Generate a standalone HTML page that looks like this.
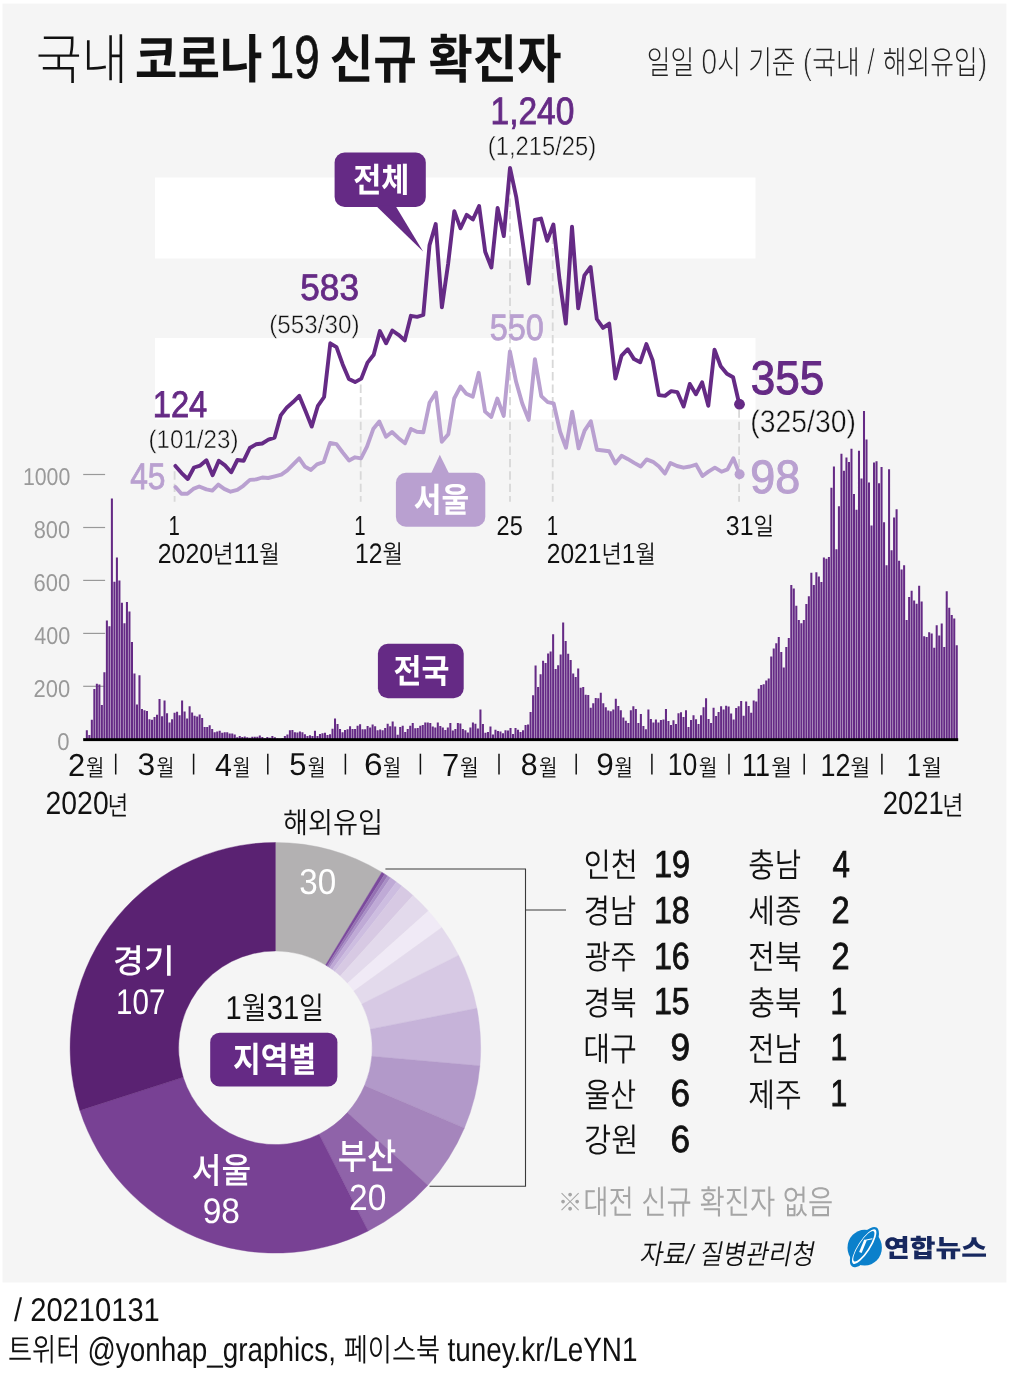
<!DOCTYPE html>
<html><head><meta charset="utf-8"><title>국내 코로나19 신규 확진자</title>
<style>
html,body{margin:0;padding:0;background:#fff}
svg{display:block}
svg text{font-family:"Liberation Sans","Noto Sans CJK KR",sans-serif;white-space:pre;text-rendering:geometricPrecision}
</style></head><body>
<svg width="1009" height="1384" viewBox="0 0 1009 1384">
<rect x="2.5" y="3.6" width="1003.9" height="1278.9" fill="#f5f5f5"/>
<rect x="155" y="177.5" width="600.5" height="81" fill="#fff"/>
<rect x="155" y="338" width="600.5" height="81.5" fill="#fff"/>
<line x1="83.2" x2="105.1" y1="474.5" y2="474.5" stroke="#999" stroke-width="1.2"/>
<line x1="83.2" x2="105.1" y1="527.5" y2="527.5" stroke="#999" stroke-width="1.2"/>
<line x1="83.2" x2="105.1" y1="580.4" y2="580.4" stroke="#999" stroke-width="1.2"/>
<line x1="83.2" x2="105.1" y1="633.4" y2="633.4" stroke="#999" stroke-width="1.2"/>
<line x1="83.2" x2="105.1" y1="686.3" y2="686.3" stroke="#999" stroke-width="1.2"/>
<path d="M83.30 739.3v-0.5h2.04v0.5zM85.81 739.3v-9.0h2.04v9.0zM88.32 739.3v-4.2h2.04v4.2zM90.82 739.3v-19.6h2.04v19.6zM93.33 739.3v-50.3h2.04v50.3zM95.84 739.3v-55.6h2.04v55.6zM98.35 739.3v-54.8h2.04v54.8zM100.85 739.3v-34.4h2.04v34.4zM103.36 739.3v-67.0h2.04v67.0zM105.87 739.3v-118.9h2.04v118.9zM108.37 739.3v-113.1h2.04v113.1zM110.88 739.3v-240.7h2.04v240.7zM113.39 739.3v-157.6h2.04v157.6zM115.89 739.3v-181.7h2.04v181.7zM118.40 739.3v-158.9h2.04v158.9zM120.91 739.3v-136.6h2.04v136.6zM123.42 739.3v-116.0h2.04v116.0zM125.92 739.3v-137.2h2.04v137.2zM128.43 739.3v-127.9h2.04v127.9zM130.94 739.3v-97.2h2.04v97.2zM133.44 739.3v-65.7h2.04v65.7zM135.95 739.3v-34.7h2.04v34.7zM138.46 739.3v-64.1h2.04v64.1zM140.96 739.3v-30.2h2.04v30.2zM143.47 739.3v-29.1h2.04v29.1zM145.98 739.3v-28.3h2.04v28.3zM148.48 739.3v-20.1h2.04v20.1zM150.99 739.3v-19.6h2.04v19.6zM153.50 739.3v-22.2h2.04v22.2zM156.01 739.3v-24.6h2.04v24.6zM158.51 739.3v-40.2h2.04v40.2zM161.02 739.3v-23.0h2.04v23.0zM163.53 739.3v-38.9h2.04v38.9zM166.03 739.3v-26.0h2.04v26.0zM168.54 739.3v-16.9h2.04v16.9zM171.05 739.3v-20.1h2.04v20.1zM173.56 739.3v-26.5h2.04v26.5zM176.06 739.3v-27.5h2.04v27.5zM178.57 739.3v-24.1h2.04v24.1zM181.08 739.3v-38.7h2.04v38.7zM183.58 739.3v-27.8h2.04v27.8zM186.09 739.3v-20.7h2.04v20.7zM188.60 739.3v-33.1h2.04v33.1zM191.10 739.3v-26.7h2.04v26.7zM193.61 739.3v-23.6h2.04v23.6zM196.12 739.3v-22.8h2.04v22.8zM198.62 739.3v-24.9h2.04v24.9zM201.13 739.3v-21.4h2.04v21.4zM203.64 739.3v-12.4h2.04v12.4zM206.15 739.3v-12.4h2.04v12.4zM208.65 739.3v-14.0h2.04v14.0zM211.16 739.3v-10.3h2.04v10.3zM213.67 739.3v-7.1h2.04v7.1zM216.17 739.3v-7.9h2.04v7.9zM218.68 739.3v-8.5h2.04v8.5zM221.19 739.3v-6.6h2.04v6.6zM223.70 739.3v-7.1h2.04v7.1zM226.20 739.3v-7.1h2.04v7.1zM228.71 739.3v-5.8h2.04v5.8zM231.22 739.3v-5.8h2.04v5.8zM233.72 739.3v-4.8h2.04v4.8zM236.23 739.3v-2.1h2.04v2.1zM238.74 739.3v-3.4h2.04v3.4zM241.24 739.3v-2.4h2.04v2.4zM243.75 739.3v-2.9h2.04v2.9zM246.26 739.3v-2.1h2.04v2.1zM248.77 739.3v-1.6h2.04v1.6zM251.27 739.3v-2.6h2.04v2.6zM253.78 739.3v-2.6h2.04v2.6zM256.29 739.3v-2.6h2.04v2.6zM258.79 739.3v-3.7h2.04v3.7zM261.30 739.3v-2.4h2.04v2.4zM263.81 739.3v-1.1h2.04v1.1zM266.31 739.3v-2.4h2.04v2.4zM268.82 739.3v-1.6h2.04v1.6zM271.33 739.3v-3.4h2.04v3.4zM273.84 739.3v-2.1h2.04v2.1zM276.34 739.3v-0.8h2.04v0.8zM278.85 739.3v-0.5h2.04v0.5zM281.36 739.3v-1.1h2.04v1.1zM283.86 739.3v-3.2h2.04v3.2zM286.37 739.3v-4.8h2.04v4.8zM288.88 739.3v-9.0h2.04v9.0zM291.38 739.3v-9.3h2.04v9.3zM293.89 739.3v-7.1h2.04v7.1zM296.40 739.3v-6.9h2.04v6.9zM298.91 739.3v-7.7h2.04v7.7zM301.41 739.3v-7.1h2.04v7.1zM303.92 739.3v-5.0h2.04v5.0zM306.43 739.3v-3.4h2.04v3.4zM308.93 739.3v-4.0h2.04v4.0zM311.44 739.3v-3.4h2.04v3.4zM313.95 739.3v-8.5h2.04v8.5zM316.45 739.3v-3.2h2.04v3.2zM318.96 739.3v-5.3h2.04v5.3zM321.47 739.3v-6.1h2.04v6.1zM323.98 739.3v-6.6h2.04v6.6zM326.48 739.3v-4.2h2.04v4.2zM328.99 739.3v-5.0h2.04v5.0zM331.50 739.3v-10.6h2.04v10.6zM334.00 739.3v-20.9h2.04v20.9zM336.51 739.3v-15.4h2.04v15.4zM339.02 739.3v-10.3h2.04v10.3zM341.52 739.3v-7.1h2.04v7.1zM344.03 739.3v-9.3h2.04v9.3zM346.54 739.3v-10.1h2.04v10.1zM349.05 739.3v-13.0h2.04v13.0zM351.55 739.3v-10.3h2.04v10.3zM354.06 739.3v-10.3h2.04v10.3zM356.57 739.3v-13.5h2.04v13.5zM359.07 739.3v-15.1h2.04v15.1zM361.58 739.3v-10.1h2.04v10.1zM364.09 739.3v-10.1h2.04v10.1zM366.59 739.3v-13.2h2.04v13.2zM369.10 739.3v-11.9h2.04v11.9zM371.61 739.3v-14.8h2.04v14.8zM374.12 739.3v-13.0h2.04v13.0zM376.62 739.3v-9.0h2.04v9.0zM379.13 739.3v-9.8h2.04v9.8zM381.64 739.3v-9.0h2.04v9.0zM384.14 739.3v-11.4h2.04v11.4zM386.65 739.3v-15.6h2.04v15.6zM389.16 739.3v-13.0h2.04v13.0zM391.66 739.3v-17.7h2.04v17.7zM394.17 739.3v-12.7h2.04v12.7zM396.68 739.3v-4.5h2.04v4.5zM399.19 739.3v-12.2h2.04v12.2zM401.69 739.3v-13.5h2.04v13.5zM404.20 739.3v-7.4h2.04v7.4zM406.71 739.3v-10.3h2.04v10.3zM409.21 739.3v-13.5h2.04v13.5zM411.72 739.3v-16.4h2.04v16.4zM414.23 739.3v-11.1h2.04v11.1zM416.73 739.3v-11.4h2.04v11.4zM419.24 739.3v-13.5h2.04v13.5zM421.75 739.3v-14.3h2.04v14.3zM424.25 739.3v-16.7h2.04v16.7zM426.76 739.3v-16.7h2.04v16.7zM429.27 739.3v-16.2h2.04v16.2zM431.78 739.3v-12.7h2.04v12.7zM434.28 739.3v-11.7h2.04v11.7zM436.79 739.3v-16.7h2.04v16.7zM439.30 739.3v-13.2h2.04v13.2zM441.80 739.3v-11.9h2.04v11.9zM444.31 739.3v-9.3h2.04v9.3zM446.82 739.3v-11.7h2.04v11.7zM449.33 739.3v-16.4h2.04v16.4zM451.83 739.3v-8.7h2.04v8.7zM454.34 739.3v-10.3h2.04v10.3zM456.85 739.3v-16.2h2.04v16.2zM459.35 739.3v-15.9h2.04v15.9zM461.86 739.3v-10.3h2.04v10.3zM464.37 739.3v-9.0h2.04v9.0zM466.87 739.3v-6.9h2.04v6.9zM469.38 739.3v-11.9h2.04v11.9zM471.89 739.3v-16.7h2.04v16.7zM474.40 739.3v-15.6h2.04v15.6zM476.90 739.3v-10.9h2.04v10.9zM479.41 739.3v-29.9h2.04v29.9zM481.92 739.3v-15.4h2.04v15.4zM484.42 739.3v-6.6h2.04v6.6zM486.93 739.3v-7.4h2.04v7.4zM489.44 739.3v-12.7h2.04v12.7zM491.94 739.3v-4.8h2.04v4.8zM494.45 739.3v-9.5h2.04v9.5zM496.96 739.3v-8.2h2.04v8.2zM499.47 739.3v-7.9h2.04v7.9zM501.97 739.3v-6.1h2.04v6.1zM504.48 739.3v-9.0h2.04v9.0zM506.99 739.3v-8.7h2.04v8.7zM509.49 739.3v-11.4h2.04v11.4zM512.00 739.3v-5.3h2.04v5.3zM514.51 739.3v-11.4h2.04v11.4zM517.01 739.3v-9.5h2.04v9.5zM519.52 739.3v-7.4h2.04v7.4zM522.03 739.3v-9.0h2.04v9.0zM524.54 739.3v-14.3h2.04v14.3zM527.04 739.3v-14.8h2.04v14.8zM529.55 739.3v-27.3h2.04v27.3zM532.06 739.3v-44.0h2.04v44.0zM534.56 739.3v-73.9h2.04v73.9zM537.07 739.3v-52.2h2.04v52.2zM539.58 739.3v-65.1h2.04v65.1zM542.08 739.3v-78.6h2.04v78.6zM544.59 739.3v-76.3h2.04v76.3zM547.10 739.3v-85.8h2.04v85.8zM549.61 739.3v-87.9h2.04v87.9zM552.11 739.3v-105.1h2.04v105.1zM554.62 739.3v-70.4h2.04v70.4zM557.13 739.3v-74.1h2.04v74.1zM559.63 739.3v-84.7h2.04v84.7zM562.14 739.3v-116.8h2.04v116.8zM564.65 739.3v-98.2h2.04v98.2zM567.15 739.3v-85.5h2.04v85.5zM569.66 739.3v-79.2h2.04v79.2zM572.17 739.3v-65.7h2.04v65.7zM574.68 739.3v-62.2h2.04v62.2zM577.18 739.3v-70.7h2.04v70.7zM579.69 739.3v-51.6h2.04v51.6zM582.20 739.3v-52.4h2.04v52.4zM584.70 739.3v-44.5h2.04v44.5zM587.21 739.3v-44.2h2.04v44.2zM589.72 739.3v-31.5h2.04v31.5zM592.22 739.3v-36.0h2.04v36.0zM594.73 739.3v-41.3h2.04v41.3zM597.24 739.3v-41.0h2.04v41.0zM599.75 739.3v-46.6h2.04v46.6zM602.25 739.3v-36.0h2.04v36.0zM604.76 739.3v-32.0h2.04v32.0zM607.27 739.3v-28.9h2.04v28.9zM609.77 739.3v-28.1h2.04v28.1zM612.28 739.3v-29.9h2.04v29.9zM614.79 739.3v-40.5h2.04v40.5zM617.29 739.3v-33.4h2.04v33.4zM619.80 739.3v-29.1h2.04v29.1zM622.31 739.3v-21.7h2.04v21.7zM624.82 739.3v-18.5h2.04v18.5zM627.32 739.3v-16.2h2.04v16.2zM629.83 739.3v-29.1h2.04v29.1zM632.34 739.3v-33.1h2.04v33.1zM634.84 739.3v-30.2h2.04v30.2zM637.35 739.3v-16.2h2.04v16.2zM639.86 739.3v-25.2h2.04v25.2zM642.36 739.3v-13.2h2.04v13.2zM644.87 739.3v-10.1h2.04v10.1zM647.38 739.3v-29.9h2.04v29.9zM649.88 739.3v-20.4h2.04v20.4zM652.39 739.3v-16.7h2.04v16.7zM654.90 739.3v-19.9h2.04v19.9zM657.41 739.3v-16.9h2.04v16.9zM659.91 739.3v-19.3h2.04v19.3zM662.42 739.3v-19.9h2.04v19.9zM664.93 739.3v-30.2h2.04v30.2zM667.43 739.3v-18.3h2.04v18.3zM669.94 739.3v-14.3h2.04v14.3zM672.45 739.3v-19.1h2.04v19.1zM674.96 739.3v-15.4h2.04v15.4zM677.46 739.3v-26.0h2.04v26.0zM679.97 739.3v-27.0h2.04v27.0zM682.48 739.3v-22.2h2.04v22.2zM684.98 739.3v-29.1h2.04v29.1zM687.49 739.3v-12.4h2.04v12.4zM690.00 739.3v-19.3h2.04v19.3zM692.50 739.3v-24.1h2.04v24.1zM695.01 739.3v-20.1h2.04v20.1zM697.52 739.3v-15.4h2.04v15.4zM700.02 739.3v-24.1h2.04v24.1zM702.53 739.3v-32.0h2.04v32.0zM705.04 739.3v-41.0h2.04v41.0zM707.55 739.3v-20.4h2.04v20.4zM710.05 739.3v-16.2h2.04v16.2zM712.56 739.3v-31.5h2.04v31.5zM715.07 739.3v-23.3h2.04v23.3zM717.57 739.3v-27.3h2.04v27.3zM720.08 739.3v-33.1h2.04v33.1zM722.59 739.3v-29.9h2.04v29.9zM725.10 739.3v-33.6h2.04v33.6zM727.60 739.3v-32.8h2.04v32.8zM730.11 739.3v-25.7h2.04v25.7zM732.62 739.3v-19.9h2.04v19.9zM735.12 739.3v-31.2h2.04v31.2zM737.63 739.3v-33.1h2.04v33.1zM740.14 739.3v-38.4h2.04v38.4zM742.64 739.3v-23.6h2.04v23.6zM745.15 739.3v-37.9h2.04v37.9zM747.66 739.3v-33.4h2.04v33.4zM750.17 739.3v-26.5h2.04v26.5zM752.67 739.3v-38.7h2.04v38.7zM755.18 739.3v-37.9h2.04v37.9zM757.69 739.3v-50.6h2.04v50.6zM760.19 739.3v-54.3h2.04v54.3zM762.70 739.3v-55.1h2.04v55.1zM765.21 739.3v-58.8h2.04v58.8zM767.71 739.3v-60.9h2.04v60.9zM770.22 739.3v-82.9h2.04v82.9zM772.73 739.3v-90.8h2.04v90.8zM775.24 739.3v-96.1h2.04v96.1zM777.74 739.3v-102.2h2.04v102.2zM780.25 739.3v-87.4h2.04v87.4zM782.76 739.3v-71.8h2.04v71.8zM785.26 739.3v-92.4h2.04v92.4zM787.77 739.3v-101.2h2.04v101.2zM790.28 739.3v-154.4h2.04v154.4zM792.78 739.3v-150.7h2.04v150.7zM795.29 739.3v-133.5h2.04v133.5zM797.80 739.3v-119.2h2.04v119.2zM800.31 739.3v-116.0h2.04v116.0zM802.81 739.3v-119.4h2.04v119.4zM805.32 739.3v-135.3h2.04v135.3zM807.83 739.3v-143.0h2.04v143.0zM810.33 739.3v-166.6h2.04v166.6zM812.84 739.3v-154.4h2.04v154.4zM815.35 739.3v-167.1h2.04v167.1zM817.85 739.3v-162.9h2.04v162.9zM820.36 739.3v-157.3h2.04v157.3zM822.87 739.3v-181.7h2.04v181.7zM825.38 739.3v-180.6h2.04v180.6zM827.88 739.3v-182.4h2.04v182.4zM830.39 739.3v-251.6h2.04v251.6zM832.90 739.3v-272.7h2.04v272.7zM835.40 739.3v-190.1h2.04v190.1zM837.91 739.3v-233.0h2.04v233.0zM840.42 739.3v-285.5h2.04v285.5zM842.92 739.3v-268.5h2.04v268.5zM845.43 739.3v-281.7h2.04v281.7zM847.94 739.3v-277.2h2.04v277.2zM850.45 739.3v-290.5h2.04v290.5zM852.95 739.3v-245.2h2.04v245.2zM855.46 739.3v-229.6h2.04v229.6zM857.97 739.3v-288.6h2.04v288.6zM860.47 739.3v-260.8h2.04v260.8zM862.98 739.3v-328.4h2.04v328.4zM865.49 739.3v-299.8h2.04v299.8zM867.99 739.3v-256.9h2.04v256.9zM870.50 739.3v-213.7h2.04v213.7zM873.01 739.3v-276.7h2.04v276.7zM875.51 739.3v-278.0h2.04v278.0zM878.02 739.3v-256.1h2.04v256.1zM880.53 739.3v-272.2h2.04v272.2zM883.04 739.3v-217.1h2.04v217.1zM885.54 739.3v-174.0h2.04v174.0zM888.05 739.3v-270.1h2.04v270.1zM890.56 739.3v-189.1h2.04v189.1zM893.06 739.3v-221.9h2.04v221.9zM895.57 739.3v-230.1h2.04v230.1zM898.08 739.3v-178.5h2.04v178.5zM900.59 739.3v-169.7h2.04v169.7zM903.09 739.3v-174.0h2.04v174.0zM905.60 739.3v-119.4h2.04v119.4zM908.11 739.3v-142.2h2.04v142.2zM910.61 739.3v-148.6h2.04v148.6zM913.12 739.3v-138.8h2.04v138.8zM915.63 739.3v-135.6h2.04v135.6zM918.13 739.3v-153.6h2.04v153.6zM920.64 739.3v-137.7h2.04v137.7zM923.15 739.3v-103.0h2.04v103.0zM925.66 739.3v-102.2h2.04v102.2zM928.16 739.3v-107.0h2.04v107.0zM930.67 739.3v-105.9h2.04v105.9zM933.18 739.3v-91.6h2.04v91.6zM935.68 739.3v-114.1h2.04v114.1zM938.19 739.3v-103.8h2.04v103.8zM940.70 739.3v-115.7h2.04v115.7zM943.20 739.3v-92.4h2.04v92.4zM945.71 739.3v-148.0h2.04v148.0zM948.22 739.3v-131.6h2.04v131.6zM950.73 739.3v-124.2h2.04v124.2zM953.23 739.3v-120.7h2.04v120.7zM955.74 739.3v-94.0h2.04v94.0z" fill="#652a85"/>
<rect x="83.2" y="738.2" width="875" height="2.9" fill="#000"/>
<line x1="174.6" x2="174.6" y1="501.7" y2="468" stroke="#d8d8d8" stroke-width="1.8" stroke-dasharray="8.4 4" stroke-dashoffset="2.8"/>
<line x1="360.7" x2="360.7" y1="501.7" y2="382" stroke="#d8d8d8" stroke-width="1.8" stroke-dasharray="8.4 4" stroke-dashoffset="2.8"/>
<line x1="510.0" x2="510.0" y1="501.7" y2="168" stroke="#d8d8d8" stroke-width="1.8" stroke-dasharray="8.4 4" stroke-dashoffset="2.8"/>
<line x1="552.7" x2="552.7" y1="501.7" y2="225" stroke="#d8d8d8" stroke-width="1.8" stroke-dasharray="8.4 4" stroke-dashoffset="2.8"/>
<line x1="739.1" x2="739.1" y1="501.7" y2="406" stroke="#d8d8d8" stroke-width="1.8" stroke-dasharray="8.4 4" stroke-dashoffset="2.8"/>
<polyline points="175.5,487.0 181.4,493.7 187.4,493.7 193.3,488.9 199.2,486.5 206.4,489.4 212.3,490.6 218.3,484.6 224.2,488.9 230.6,491.7 237.3,489.8 243.3,485.8 249.9,479.9 256.3,479.4 262.3,477.5 268.2,478.0 274.7,476.3 281.3,474.6 287.3,470.3 293.2,464.4 299.2,458.4 305.1,466.8 311.0,469.9 317.0,464.4 323.7,462.0 330.1,443.0 336.5,444.2 342.7,452.5 349.1,460.4 355.0,457.3 361.0,458.4 367.0,446.6 373.4,428.7 379.3,421.6 386.0,436.8 392.0,432.0 398.6,438.2 405.0,443.2 410.9,428.9 416.9,431.8 423.3,432.3 429.5,402.8 435.9,392.5 441.8,441.8 448.3,434.2 454.2,398.5 460.4,386.6 466.3,393.7 472.8,396.6 478.7,372.8 485.1,411.6 491.3,417.0 497.3,398.5 503.7,415.9 509.9,351.4 516.1,381.8 522.2,403.3 528.7,419.9 534.9,359.2 541.3,396.1 547.7,402.1 553.6,403.3 560.1,431.8 566.0,447.7 572.2,411.6 578.6,448.4 584.6,430.6 590.8,421.2 596.9,449.7 603.3,450.5 609.1,451.2 615.3,463.4 621.6,455.8 627.6,458.9 634.2,462.9 640.7,466.5 646.6,459.4 653.0,461.8 659.0,466.5 664.9,473.6 670.4,462.9 677.0,466.0 683.5,467.7 689.9,466.5 696.1,464.6 702.5,476.0 708.4,471.7 714.9,467.7 721.5,471.7 727.5,469.4 733.4,458.2 739.4,473.6" fill="none" stroke="#b9a0d0" stroke-width="3.9" stroke-linejoin="round" stroke-linecap="round"/>
<circle cx="739.6" cy="474.3" r="5" fill="#b9a0d0"/>
<polyline points="175.4,465.9 181.6,473.1 187.8,479.0 194.0,467.5 200.2,465.6 206.4,460.3 212.6,475.2 218.8,460.8 225.0,465.4 231.2,472.3 237.4,460.0 243.6,460.8 249.8,448.0 256.0,444.3 262.2,443.5 268.4,439.7 274.6,437.6 280.7,415.4 286.9,407.4 293.1,402.1 299.3,395.9 305.5,410.9 311.7,426.6 317.9,405.8 324.1,397.0 330.3,343.3 336.5,347.1 342.7,364.4 348.9,378.9 355.1,382.1 361.3,378.6 367.5,362.6 373.7,354.8 379.9,331.1 386.1,343.3 392.3,330.5 398.5,334.8 404.7,340.4 410.9,315.8 417.1,316.9 423.3,315.0 429.5,245.3 435.7,224.0 441.9,307.3 448.1,264.0 454.3,211.2 460.5,228.3 466.7,214.9 472.9,219.5 479.1,206.1 485.2,251.8 491.4,267.5 497.6,208.0 503.8,236.0 510.0,167.9 516.2,196.8 522.4,240.0 528.6,283.5 534.8,220.0 541.0,218.6 547.2,240.8 553.4,224.5 559.6,280.1 565.8,323.6 572.0,226.7 578.2,308.4 584.4,275.3 590.6,267.0 596.8,319.0 603.0,327.9 609.2,323.6 615.4,378.6 621.6,355.6 627.8,349.2 634.0,359.1 640.2,362.3 646.4,344.1 652.6,360.2 658.8,395.1 665.0,395.9 671.2,391.1 677.4,392.2 683.6,406.6 689.8,383.9 695.9,394.3 702.1,382.3 708.3,405.8 714.5,349.7 720.7,366.3 726.9,373.8 733.1,377.2 739.3,404.2" fill="none" stroke="#652a85" stroke-width="3.9" stroke-linejoin="round" stroke-linecap="round"/>
<circle cx="739.5" cy="404.2" r="5.4" fill="#652a85"/>
<rect x="334.6" y="152.6" width="91.2" height="54.3" rx="10" fill="#652a85"/>
<path d="M375.7 205.5 L395.3 205.5 L423.1 251.6 Z" fill="#652a85"/>
<rect x="395.9" y="472.8" width="89.4" height="54" rx="10" fill="#b9a0d0"/>
<path d="M430.8 474 L439.8 454.8 L449.3 474 Z" fill="#b9a0d0"/>
<rect x="377.9" y="643.7" width="85.8" height="54.5" rx="10" fill="#652a85"/>
<line x1="115.7" x2="115.7" y1="753.7" y2="774.5" stroke="#111" stroke-width="1.5"/>
<line x1="193.6" x2="193.6" y1="753.7" y2="774.5" stroke="#111" stroke-width="1.5"/>
<line x1="267.8" x2="267.8" y1="753.7" y2="774.5" stroke="#111" stroke-width="1.5"/>
<line x1="345.4" x2="345.4" y1="753.7" y2="774.5" stroke="#111" stroke-width="1.5"/>
<line x1="420.4" x2="420.4" y1="753.7" y2="774.5" stroke="#111" stroke-width="1.5"/>
<line x1="499" x2="499" y1="753.7" y2="774.5" stroke="#111" stroke-width="1.5"/>
<line x1="576.2" x2="576.2" y1="753.7" y2="774.5" stroke="#111" stroke-width="1.5"/>
<line x1="651.9" x2="651.9" y1="753.7" y2="774.5" stroke="#111" stroke-width="1.5"/>
<line x1="729" x2="729" y1="753.7" y2="774.5" stroke="#111" stroke-width="1.5"/>
<line x1="804.2" x2="804.2" y1="753.7" y2="774.5" stroke="#111" stroke-width="1.5"/>
<line x1="881.9" x2="881.9" y1="753.7" y2="774.5" stroke="#111" stroke-width="1.5"/>
<path d="M275.40 842.50A205.3 205.3 0 0 1 381.85 872.26L325.59 965.03A96.8 96.8 0 0 0 275.40 951.00Z" fill="#b3b1b2" stroke="#b3b1b2" stroke-width="0.4"/>
<path d="M381.85 872.26A205.3 205.3 0 0 1 384.79 874.07L326.98 965.89A96.8 96.8 0 0 0 325.59 965.03Z" fill="#7b4a9c" stroke="#7b4a9c" stroke-width="0.4"/>
<path d="M384.79 874.07A205.3 205.3 0 0 1 387.70 875.93L328.35 966.76A96.8 96.8 0 0 0 326.98 965.89Z" fill="#9572b3" stroke="#9572b3" stroke-width="0.4"/>
<path d="M387.70 875.93A205.3 205.3 0 0 1 390.57 877.85L329.70 967.67A96.8 96.8 0 0 0 328.35 966.76Z" fill="#a98fc6" stroke="#a98fc6" stroke-width="0.4"/>
<path d="M390.57 877.85A205.3 205.3 0 0 1 396.37 881.92L332.44 969.59A96.8 96.8 0 0 0 329.70 967.67Z" fill="#bfaad6" stroke="#bfaad6" stroke-width="0.4"/>
<path d="M396.37 881.92A205.3 205.3 0 0 1 401.87 886.08L335.03 971.55A96.8 96.8 0 0 0 332.44 969.59Z" fill="#cdbde0" stroke="#cdbde0" stroke-width="0.4"/>
<path d="M401.87 886.08A205.3 205.3 0 0 1 413.00 895.44L340.28 975.96A96.8 96.8 0 0 0 335.03 971.55Z" fill="#d7c9e3" stroke="#d7c9e3" stroke-width="0.4"/>
<path d="M413.00 895.44A205.3 205.3 0 0 1 428.37 910.88L347.53 983.24A96.8 96.8 0 0 0 340.28 975.96Z" fill="#e3daec" stroke="#e3daec" stroke-width="0.4"/>
<path d="M428.37 910.88A205.3 205.3 0 0 1 441.81 927.57L353.86 991.11A96.8 96.8 0 0 0 347.53 983.24Z" fill="#f0eaf6" stroke="#f0eaf6" stroke-width="0.4"/>
<path d="M441.81 927.57A205.3 205.3 0 0 1 458.61 955.16L361.79 1004.12A96.8 96.8 0 0 0 353.86 991.11Z" fill="#e3daec" stroke="#e3daec" stroke-width="0.4"/>
<path d="M458.61 955.16A205.3 205.3 0 0 1 476.86 1008.26L370.39 1029.16A96.8 96.8 0 0 0 361.79 1004.12Z" fill="#d7c9e4" stroke="#d7c9e4" stroke-width="0.4"/>
<path d="M476.86 1008.26A205.3 205.3 0 0 1 479.91 1065.76L371.83 1056.27A96.8 96.8 0 0 0 370.39 1029.16Z" fill="#c6b3d9" stroke="#c6b3d9" stroke-width="0.4"/>
<path d="M479.91 1065.76A205.3 205.3 0 0 1 464.42 1127.91L364.53 1085.57A96.8 96.8 0 0 0 371.83 1056.27Z" fill="#b299c9" stroke="#b299c9" stroke-width="0.4"/>
<path d="M464.42 1127.91A205.3 205.3 0 0 1 427.89 1185.26L347.30 1112.61A96.8 96.8 0 0 0 364.53 1085.57Z" fill="#a585bc" stroke="#a585bc" stroke-width="0.4"/>
<path d="M427.89 1185.26A205.3 205.3 0 0 1 368.20 1230.93L319.16 1134.15A96.8 96.8 0 0 0 347.30 1112.61Z" fill="#8f63a9" stroke="#8f63a9" stroke-width="0.4"/>
<path d="M368.20 1230.93A205.3 205.3 0 0 1 79.87 1110.38L183.21 1077.31A96.8 96.8 0 0 0 319.16 1134.15Z" fill="#784194" stroke="#784194" stroke-width="0.4"/>
<path d="M79.87 1110.38A205.3 205.3 0 0 1 275.40 842.50L275.40 951.00A96.8 96.8 0 0 0 183.21 1077.31Z" fill="#5a2272" stroke="#5a2272" stroke-width="0.4"/>
<path d="M385.4 869H525.5V1186.2H429.5" fill="none" stroke="#3a3a3a" stroke-width="1.1"/>
<line x1="525.5" x2="566" y1="910" y2="910" stroke="#3a3a3a" stroke-width="1.1"/>
<rect x="210.2" y="1032.8" width="127.2" height="53.7" rx="9.5" fill="#652a85"/>
<g><ellipse cx="864.7" cy="1247.7" rx="17.2" ry="17.9" fill="#0b80cb"/><ellipse cx="864.4" cy="1247.1" rx="9.4" ry="23" transform="rotate(32 864.4 1247.1)" fill="#0b80cb"/><ellipse cx="864.2" cy="1246.6" rx="6.1" ry="20.3" transform="rotate(33 864.2 1246.6)" fill="#fff"/><ellipse cx="863.85" cy="1246.3" rx="4.9" ry="17.9" transform="rotate(33 863.85 1246.3)" fill="#0b80cb"/><path d="M865.5 1239.9 L860.4 1252.4" fill="none" stroke="#fff" stroke-width="2.7"/><path d="M865.2 1240.3 L872.4 1238.7" fill="none" stroke="#fff" stroke-width="1.1"/></g>
<text transform="translate(22.90 485.16) scale(0.8736 1)" font-size="24.37" font-weight="350" fill="#999">1000</text>
<text transform="translate(33.73 538.12) scale(0.8957 1)" font-size="24.37" font-weight="350" fill="#999">800</text>
<text transform="translate(33.50 591.08) scale(0.9013 1)" font-size="24.37" font-weight="350" fill="#999">600</text>
<text transform="translate(34.17 644.04) scale(0.8845 1)" font-size="24.37" font-weight="350" fill="#999">400</text>
<text transform="translate(33.50 697.00) scale(0.9013 1)" font-size="24.37" font-weight="350" fill="#999">200</text>
<text transform="translate(57.22 749.96) scale(0.9063 1)" font-size="24.37" font-weight="350" fill="#999">0</text>
<text transform="translate(353.18 192.37) scale(0.9086 1)" font-size="33.66" font-weight="700" fill="#fff">전체</text>
<text transform="translate(413.80 512.27) scale(0.8931 1)" font-size="33.66" font-weight="700" fill="#fff">서울</text>
<text transform="translate(393.58 682.98) scale(0.9061 1)" font-size="33.55" font-weight="700" fill="#fff">전국</text>
<text transform="translate(490.56 124.44) scale(0.8761 1)" font-size="38.22" font-weight="350" fill="#652a85" stroke="#652a85" stroke-width="0.84">1,240</text>
<text transform="translate(487.77 154.74) scale(0.9030 1)" font-size="26.34" font-weight="350" fill="#111" stroke="#f5f5f5" stroke-width="0.45">(1,215/25)</text>
<text transform="translate(300.24 300.26) scale(0.9522 1)" font-size="36.99" font-weight="350" fill="#652a85" stroke="#652a85" stroke-width="0.81">583</text>
<text transform="translate(269.25 332.95) scale(0.9565 1)" font-size="25.35" font-weight="350" fill="#111" stroke="#f5f5f5" stroke-width="0.45">(553/30)</text>
<text transform="translate(489.63 339.67) scale(0.8848 1)" font-size="36.71" font-weight="350" fill="#b9a0d0" stroke="#b9a0d0" stroke-width="0.81">550</text>
<text transform="translate(152.71 417.33) scale(0.8824 1)" font-size="37.08" font-weight="350" fill="#652a85" stroke="#652a85" stroke-width="0.82">124</text>
<text transform="translate(148.55 447.54) scale(0.9417 1)" font-size="25.63" font-weight="350" fill="#111" stroke="#f5f5f5" stroke-width="0.45">(101/23)</text>
<text transform="translate(130.18 489.36) scale(0.8601 1)" font-size="36.94" font-weight="350" fill="#b9a0d0" stroke="#b9a0d0" stroke-width="0.81">45</text>
<text transform="translate(750.68 394.05) scale(0.9318 1)" font-size="47.26" font-weight="350" fill="#652a85" stroke="#652a85" stroke-width="1.04">355</text>
<text transform="translate(750.30 432.29) scale(0.9111 1)" font-size="31.13" font-weight="350" fill="#111" stroke="#f5f5f5" stroke-width="0.45">(325/30)</text>
<text transform="translate(750.20 492.66) scale(0.9585 1)" font-size="46.85" font-weight="350" fill="#b9a0d0" stroke="#b9a0d0" stroke-width="1.03">98</text>
<text transform="translate(168.54 534.60) scale(0.7400 1)" font-size="27.54" font-weight="350" fill="#111">1</text>
<text transform="translate(157.76 562.82) scale(0.8950 1)" font-size="27.75" font-weight="350" fill="#111">2020<tspan font-size="24.97">년</tspan>11<tspan font-size="24.97">월</tspan></text>
<text transform="translate(354.34 534.60) scale(0.7400 1)" font-size="27.54" font-weight="350" fill="#111">1</text>
<text transform="translate(355.02 563.10) scale(0.8773 1)" font-size="28.14" font-weight="350" fill="#111">12<tspan font-size="25.33">월</tspan></text>
<text transform="translate(496.62 534.63) scale(0.8656 1)" font-size="27.18" font-weight="350" fill="#111">25</text>
<text transform="translate(546.74 534.60) scale(0.7400 1)" font-size="27.54" font-weight="350" fill="#111">1</text>
<text transform="translate(546.77 562.82) scale(0.8851 1)" font-size="27.75" font-weight="350" fill="#111">2021<tspan font-size="24.97">년</tspan>1<tspan font-size="24.97">월</tspan></text>
<text transform="translate(725.81 534.63) scale(0.9146 1)" font-size="27.18" font-weight="350" fill="#111">31<tspan font-size="24.46">일</tspan></text>
<text transform="translate(67.96 775.70) scale(0.9734 1)" font-size="31.71" font-weight="350" fill="#111">2</text>
<text transform="translate(86.00 776.31) scale(0.8627 1)" font-size="23.18" font-weight="350" fill="#111">월</text>
<text transform="translate(137.43 775.39) scale(1.0139 1)" font-size="31.27" font-weight="350" fill="#111">3</text>
<text transform="translate(156.43 776.31) scale(0.8403 1)" font-size="23.18" font-weight="350" fill="#111">월</text>
<text transform="translate(214.99 775.70) scale(0.9446 1)" font-size="32.17" font-weight="350" fill="#111">4</text>
<text transform="translate(232.63 776.31) scale(0.8347 1)" font-size="23.18" font-weight="350" fill="#111">월</text>
<text transform="translate(289.27 775.38) scale(0.9728 1)" font-size="31.71" font-weight="350" fill="#111">5</text>
<text transform="translate(307.73 776.31) scale(0.8403 1)" font-size="23.18" font-weight="350" fill="#111">월</text>
<text transform="translate(364.03 775.39) scale(1.0707 1)" font-size="31.27" font-weight="350" fill="#111">6</text>
<text transform="translate(383.11 776.31) scale(0.8571 1)" font-size="23.18" font-weight="350" fill="#111">월</text>
<text transform="translate(442.06 775.70) scale(0.9595 1)" font-size="32.17" font-weight="350" fill="#111">7</text>
<text transform="translate(460.08 776.31) scale(0.8796 1)" font-size="23.18" font-weight="350" fill="#111">월</text>
<text transform="translate(520.79 775.39) scale(0.9663 1)" font-size="31.27" font-weight="350" fill="#111">8</text>
<text transform="translate(538.99 776.31) scale(0.8683 1)" font-size="23.18" font-weight="350" fill="#111">월</text>
<text transform="translate(596.32 775.39) scale(1.0081 1)" font-size="31.27" font-weight="350" fill="#111">9</text>
<text transform="translate(614.59 776.31) scale(0.8683 1)" font-size="23.18" font-weight="350" fill="#111">월</text>
<text transform="translate(667.67 775.39) scale(0.8496 1)" font-size="31.27" font-weight="350" fill="#111">10</text>
<text transform="translate(698.78 776.31) scale(0.8796 1)" font-size="23.18" font-weight="350" fill="#111">월</text>
<text transform="translate(742.04 775.70) scale(0.8400 1)" font-size="32.17" font-weight="350" fill="#111">11</text>
<text transform="translate(771.36 776.31) scale(0.9804 1)" font-size="23.18" font-weight="350" fill="#111">월</text>
<text transform="translate(820.43 775.70) scale(0.8500 1)" font-size="31.71" font-weight="350" fill="#111">12</text>
<text transform="translate(850.53 776.31) scale(0.9244 1)" font-size="23.18" font-weight="350" fill="#111">월</text>
<text transform="translate(906.86 775.70) scale(0.8000 1)" font-size="32.17" font-weight="350" fill="#111">1</text>
<text transform="translate(921.70 776.31) scale(0.9524 1)" font-size="23.18" font-weight="350" fill="#111">월</text>
<text transform="translate(45.58 813.58) scale(0.8792 1)" font-size="32.25" font-weight="350" fill="#111">2020</text>
<text transform="translate(107.42 815.08) scale(0.8575 1)" font-size="26.32" font-weight="350" fill="#111">년</text>
<text transform="translate(882.77 813.58) scale(0.8500 1)" font-size="32.25" font-weight="350" fill="#111">2021</text>
<text transform="translate(942.25 815.08) scale(0.8792 1)" font-size="26.32" font-weight="350" fill="#111">년</text>
<text transform="translate(282.94 833.37) scale(0.9344 1)" font-size="29.11" font-weight="350" fill="#111">해외유입</text>
<text transform="translate(299.37 894.14) scale(0.9245 1)" font-size="35.92" font-weight="350" fill="#fff">30</text>
<text transform="translate(112.89 972.74) scale(1.0059 1)" font-size="33.30" font-weight="500" fill="#fff">경기</text>
<text transform="translate(116.04 1013.74) scale(0.8291 1)" font-size="35.63" font-weight="350" fill="#fff">107</text>
<text transform="translate(191.81 1183.40) scale(0.9239 1)" font-size="34.95" font-weight="500" fill="#fff">서울</text>
<text transform="translate(202.72 1223.04) scale(0.9409 1)" font-size="35.63" font-weight="350" fill="#fff">98</text>
<text transform="translate(337.81 1169.47) scale(0.8976 1)" font-size="35.38" font-weight="500" fill="#fff">부산</text>
<text transform="translate(349.02 1210.24) scale(0.9191 1)" font-size="36.48" font-weight="350" fill="#fff">20</text>
<text transform="translate(225.57 1019.37) scale(0.8763 1)" font-size="33.24" font-weight="350" fill="#111">1<tspan font-size="30.91">월</tspan>31<tspan font-size="30.91">일</tspan></text>
<text transform="translate(232.89 1072.16) scale(0.8665 1)" font-size="34.84" font-weight="700" fill="#fff">지역별</text>
<text transform="translate(583.74 877.33) scale(0.8808 1)" font-size="33.45" font-weight="350" fill="#111">인천</text>
<text transform="translate(653.93 876.85) scale(0.8627 1)" font-size="37.67" font-weight="350" fill="#111" stroke="#111" stroke-width="0.83">19</text>
<text transform="translate(583.81 923.18) scale(0.8502 1)" font-size="33.45" font-weight="350" fill="#111">경남</text>
<text transform="translate(653.95 922.70) scale(0.8542 1)" font-size="37.67" font-weight="350" fill="#111" stroke="#111" stroke-width="0.83">18</text>
<text transform="translate(584.38 969.03) scale(0.8502 1)" font-size="33.45" font-weight="350" fill="#111">광주</text>
<text transform="translate(653.95 968.55) scale(0.8542 1)" font-size="37.67" font-weight="350" fill="#111" stroke="#111" stroke-width="0.83">16</text>
<text transform="translate(583.79 1014.88) scale(0.8602 1)" font-size="33.45" font-weight="350" fill="#111">경북</text>
<text transform="translate(653.95 1014.40) scale(0.8542 1)" font-size="37.67" font-weight="350" fill="#111" stroke="#111" stroke-width="0.83">15</text>
<text transform="translate(583.18 1060.73) scale(0.8704 1)" font-size="33.45" font-weight="350" fill="#111">대구</text>
<text transform="translate(670.39 1060.25) scale(0.9346 1)" font-size="37.67" font-weight="350" fill="#111" stroke="#111" stroke-width="0.83">9</text>
<text transform="translate(584.39 1106.58) scale(0.8405 1)" font-size="33.45" font-weight="350" fill="#111">울산</text>
<text transform="translate(670.39 1106.10) scale(0.9346 1)" font-size="37.67" font-weight="350" fill="#111" stroke="#111" stroke-width="0.83">6</text>
<text transform="translate(584.03 1152.43) scale(0.8808 1)" font-size="33.45" font-weight="350" fill="#111">강원</text>
<text transform="translate(670.39 1151.95) scale(0.9346 1)" font-size="37.67" font-weight="350" fill="#111" stroke="#111" stroke-width="0.83">6</text>
<text transform="translate(748.37 877.33) scale(0.8576 1)" font-size="33.45" font-weight="350" fill="#111">충남</text>
<text transform="translate(832.49 876.85) scale(0.8314 1)" font-size="37.67" font-weight="350" fill="#111" stroke="#111" stroke-width="0.83">4</text>
<text transform="translate(748.35 923.18) scale(0.8675 1)" font-size="33.45" font-weight="350" fill="#111">세종</text>
<text transform="translate(831.50 922.70) scale(0.8627 1)" font-size="37.67" font-weight="350" fill="#111" stroke="#111" stroke-width="0.83">2</text>
<text transform="translate(748.05 969.03) scale(0.8726 1)" font-size="33.45" font-weight="350" fill="#111">전북</text>
<text transform="translate(831.50 968.55) scale(0.8627 1)" font-size="37.67" font-weight="350" fill="#111" stroke="#111" stroke-width="0.83">2</text>
<text transform="translate(748.35 1014.88) scale(0.8675 1)" font-size="33.45" font-weight="350" fill="#111">충북</text>
<text transform="translate(830.41 1014.40) scale(0.8000 1)" font-size="37.67" font-weight="350" fill="#111" stroke="#111" stroke-width="0.83">1</text>
<text transform="translate(748.07 1060.73) scale(0.8625 1)" font-size="33.45" font-weight="350" fill="#111">전남</text>
<text transform="translate(830.41 1060.25) scale(0.8000 1)" font-size="37.67" font-weight="350" fill="#111" stroke="#111" stroke-width="0.83">1</text>
<text transform="translate(748.35 1106.58) scale(0.8675 1)" font-size="33.45" font-weight="350" fill="#111">제주</text>
<text transform="translate(830.41 1106.10) scale(0.8000 1)" font-size="37.67" font-weight="350" fill="#111" stroke="#111" stroke-width="0.83">1</text>
<text transform="translate(557.84 1210.59) scale(1.0000 1)" font-size="24.72" font-weight="350" fill="#a5a5a5">※</text>
<text transform="translate(583.23 1213.76) scale(0.8225 1)" font-size="33.37" font-weight="350" fill="#a5a5a5">대전 신규 확진자 없음</text>
<text transform="translate(638.95 1264.38) scale(0.9010 1) skewX(-12)" font-size="27.69" font-weight="350" fill="#111">자료/ 질병관리청</text>
<text transform="translate(884.00 1256.66) scale(1.1246 1)" font-size="24.89" font-weight="900" fill="#17285f">연합뉴스</text>
<text transform="translate(14.00 1321.27) scale(0.8877 1)" font-size="32.82" font-weight="350" fill="#111">/ 20210131</text>
<text transform="translate(7.91 1360.84) scale(0.8279 1)" font-size="33.69" font-weight="350" fill="#111"><tspan font-size="31.67">트위터 </tspan>@yonhap_graphics, <tspan font-size="31.67">페이스북 </tspan>tuney.kr/LeYN1</text>
<text transform="translate(35.69 78.57) scale(0.9159 1)" font-size="54.72" font-weight="300" fill="#111">국내</text>
<text transform="translate(135.05 77.69) scale(0.8810 1)" font-size="52.37" font-weight="700" fill="#111">코로나</text>
<text transform="translate(268.80 78.49) scale(0.7546 1)" font-size="60.56" font-weight="350" fill="#111" stroke="#111" stroke-width="0.73">19</text>
<text transform="translate(329.70 77.69) scale(0.9049 1)" font-size="52.37" font-weight="700" fill="#111">신규</text>
<text transform="translate(428.56 77.69) scale(0.9196 1)" font-size="52.37" font-weight="700" fill="#111">확진자</text>
<text transform="translate(646.69 74.38) scale(0.7888 1)" font-size="36.33" font-weight="300" fill="#222"><tspan font-size="32.70">일일 </tspan><tspan stroke="#f5f5f5" stroke-width="1.1">0</tspan><tspan font-size="32.70">시 기준 </tspan><tspan stroke="#f5f5f5" stroke-width="1.1">(</tspan><tspan font-size="32.70">국내 </tspan><tspan stroke="#f5f5f5" stroke-width="1.1">/ </tspan><tspan font-size="32.70">해외유입</tspan><tspan stroke="#f5f5f5" stroke-width="1.1">)</tspan></text>
</svg>
</body></html>
